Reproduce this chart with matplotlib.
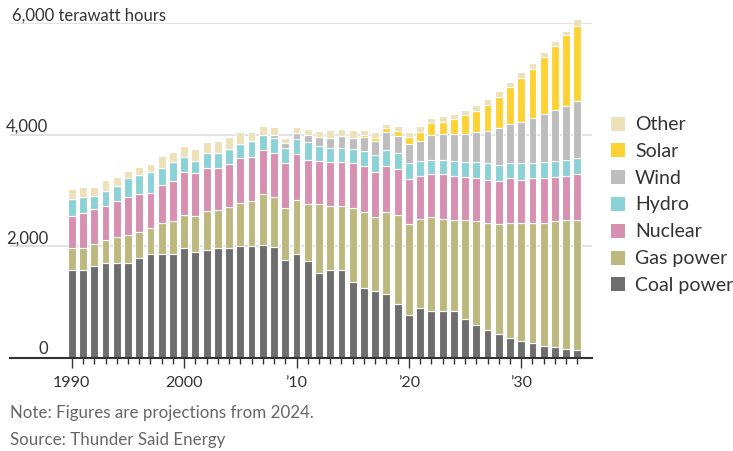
import matplotlib
matplotlib.use("Agg")
import matplotlib.pyplot as plt
import numpy as np
from matplotlib.patches import Rectangle

W, H = 733, 452

years = list(range(1990, 2036))

coal = [1580, 1580, 1645, 1700, 1700, 1700, 1800, 1855, 1870, 1870,
        1965, 1900, 1940, 1965, 1965, 2010, 2005, 2020, 1995, 1750,
        1855, 1730, 1520, 1585, 1585, 1355, 1250, 1205, 1155, 970,
        770, 890, 845, 845, 845, 700, 600, 505, 430, 360,
        310, 265, 215, 190, 170, 145]
gas = [390, 390, 390, 410, 460, 510, 450, 475, 550, 580,
       600, 645, 700, 690, 735, 775, 810, 910, 885, 945,
       975, 1020, 1240, 1135, 1135, 1340, 1365, 1320, 1460, 1600,
       1625, 1605, 1675, 1650, 1630, 1775, 1850, 1920, 1970, 2065,
       2115, 2160, 2210, 2260, 2305, 2330]
nuclear = [575, 625, 630, 605, 655, 670, 680, 620, 675, 720,
           775, 765, 765, 750, 780, 790, 790, 795, 795, 795,
           825, 800, 775, 795, 795, 795, 830, 800, 820, 820,
           810, 765, 775, 800, 790, 765, 765, 765, 770, 790,
           765, 790, 790, 790, 790, 820]
hydro = [310, 280, 240, 285, 265, 335, 355, 380, 310, 335,
         255, 210, 265, 265, 255, 265, 280, 270, 270, 265,
         265, 325, 265, 255, 255, 260, 260, 310, 290, 285,
         285, 275, 260, 260, 270, 270, 295, 295, 290, 270,
         295, 270, 295, 295, 290, 285]
wind = [0, 0, 0, 0, 0, 0, 0, 0, 0, 0,
        0, 0, 0, 0, 0, 0, 0, 0, 50, 95,
        105, 120, 150, 175, 200, 195, 260, 260, 320, 305,
        335, 360, 440, 465, 485, 510, 530, 580, 655, 700,
        750, 820, 865, 915, 965, 1015]
solar = [0, 0, 0, 0, 0, 0, 0, 0, 0, 0,
         0, 0, 0, 0, 0, 0, 0, 0, 0, 0,
         0, 0, 0, 0, 0, 0, 30, 40, 70, 85,
         140, 160, 210, 215, 255, 335, 385, 475, 560, 670,
         775, 880, 1010, 1145, 1270, 1360]
other = [170, 195, 165, 185, 155, 140, 140, 145, 220, 185,
         200, 215, 190, 215, 225, 215, 170, 160, 145, 95,
         105, 115, 115, 140, 130, 140, 90, 120, 75, 85,
         90, 100, 95, 100, 95, 90, 110, 95, 100, 95,
         110, 95, 95, 80, 70, 120]

sources = ["Coal power", "Gas power", "Nuclear", "Hydro", "Wind", "Solar", "Other"]
series = [coal, gas, nuclear, hydro, wind, solar, other]
colors = ["#6e6e6e", "#bdb97e", "#d790b0", "#8bd2d7", "#bdbdbd", "#fed234", "#ece1b7"]

y_ticks = [0, 2000, 4000, 6000]
x_ticks = [1990, 2000, 2010, 2020, 2030]
x_labels = ["1990", "2000", "\u201910", "\u201920", "\u201930"]

plt.rcParams["font.family"] = ["Lato", "DejaVu Sans"]

TEXT = "#333333"
MUTED = "#666666"


def fx(x):
    return x / W


def fy(y):
    return 1 - y / H


fig = plt.figure(figsize=(W / 100, H / 100), dpi=100)
ax = fig.add_axes([fx(10), fy(359), fx(592) - fx(10), fy(24) - fy(359)])

bottom = np.zeros(len(years))
for values, color in zip(series, colors):
    values = np.array(values, dtype=float)
    ax.bar(years, values, bottom=bottom, width=0.7, color=color,
           edgecolor="white", linewidth=0.8, clip_on=False, zorder=3)
    bottom += values

ax.set_xlim(1984.5, 2036.3)
ax.set_ylim(0, 6000)

for spine in ["top", "right", "left"]:
    ax.spines[spine].set_visible(False)
ax.spines["bottom"].set_color("#333333")
ax.spines["bottom"].set_linewidth(1.5)
ax.spines["bottom"].set_zorder(4)

ax.set_yticks(y_ticks)
ax.set_yticklabels([])
ax.tick_params(axis="y", length=0)
ax.grid(axis="y", color="#e2e2e2", linewidth=1.4, zorder=0)

ax.set_xticks(x_ticks)
ax.set_xticklabels(x_labels, fontsize=11.5, color=TEXT)
ax.set_xticks(years, minor=True)
ax.tick_params(axis="x", which="major", length=7, width=1, color="#333333", pad=5)
ax.tick_params(axis="x", which="minor", length=4, width=1, color="#333333")

ytrans = ax.get_yaxis_transform()
for value in y_ticks[1:3]:
    ax.text(0.066, value + 65, f"{value:,}", transform=ytrans, ha="right",
            va="baseline", fontsize=12, color=TEXT)
ax.text(0.066, 90, "0", transform=ytrans, ha="right", va="baseline",
        fontsize=12, color=TEXT)
ax.text(0.003, 6000 + 65, "6,000 terawatt hours", transform=ytrans, ha="left",
        va="baseline", fontsize=12, color=TEXT)

# legend, top entry first
for i, (label, color) in enumerate(zip(sources[::-1], colors[::-1])):
    yc = 124.5 + i * 26.8
    fig.add_artist(Rectangle((fx(611), fy(yc + 7)), fx(14), 14 / H,
                             facecolor=color, edgecolor="none",
                             transform=fig.transFigure))
    fig.text(fx(635), fy(yc), label, ha="left", va="center",
             fontsize=14, color=TEXT)

fig.text(fx(10), fy(413), "Note: Figures are projections from 2024.",
         ha="left", va="center", fontsize=12.2, color=MUTED)
fig.text(fx(10), fy(440), "Source: Thunder Said Energy",
         ha="left", va="center", fontsize=12.2, color=MUTED)

fig.savefig("out.png", dpi=100)
